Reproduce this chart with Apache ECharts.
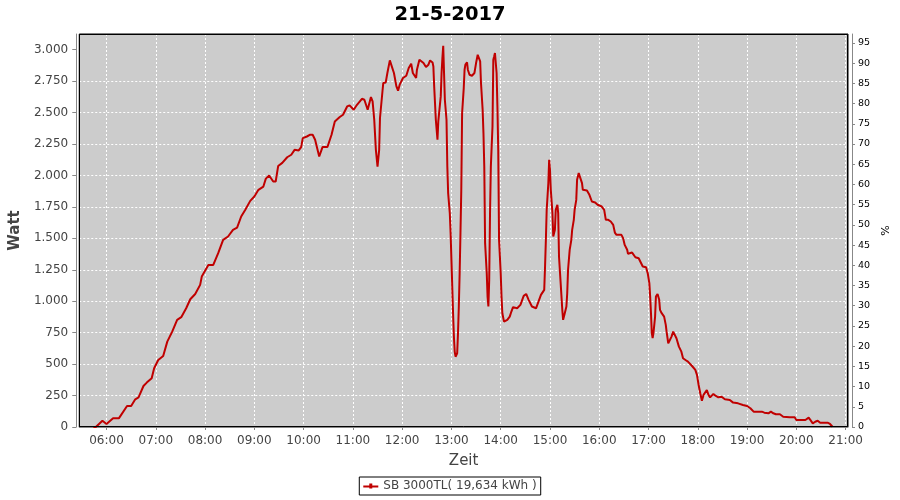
<!DOCTYPE html>
<html><head><meta charset="utf-8">
<script src="https://cdn.jsdelivr.net/npm/echarts@6/dist/echarts.min.js"></script>
<style>html,body{margin:0;padding:0;background:#fff}#c{width:900px;height:500px}</style>
</head><body><div id="c"></div><script>
const chartTitle = '21-5-2017';
const seriesName = 'SB 3000TL( 19,634 kWh )';
const xAxisName = 'Zeit';
const yAxisName = 'Watt';
const y2AxisName = '%';
const xStart = '05:26:48';
const xEnd = '21:02:54';
const wattTicks = [0,250,500,750,1000,1250,1500,1750,2000,2250,2500,2750,3000];
const pctTicks = [0,5,10,15,20,25,30,35,40,45,50,55,60,65,70,75,80,85,90,95];
const wattMax = 3125;
const pctMax = 97.2;
const times = ['05:44','05:47','05:55','06:00','06:08','06:15','06:25','06:30','06:35','06:39','06:45','06:49','06:55','06:58','07:03','07:09','07:14','07:20','07:26','07:31','07:37','07:42','07:48','07:54','07:56','08:04','08:10','08:16','08:22','08:28','08:34','08:39','08:44','08:49','08:55','09:00','09:05','09:11','09:14','09:18','09:23','09:26','09:29','09:34','09:40','09:45','09:49','09:54','09:57','09:59','10:04','10:08','10:11','10:14','10:19','10:23','10:29','10:34','10:38','10:44','10:48','10:53','10:56','11:01','11:05','11:11','11:14','11:18','11:22','11:24','11:26','11:28','11:30','11:32','11:33','11:36','11:37','11:40','11:42','11:45','11:47','11:50','11:53','11:55','11:57','12:01','12:05','12:08','12:11','12:13','12:17','12:18','12:21','12:23','12:26','12:29','12:32','12:34','12:37','12:38','12:39','12:40','12:41','12:43','12:44','12:45','12:47','12:48','12:49','12:50','12:51','12:52','12:54','12:55','12:56','12:58','12:59','13:00','13:02','13:03','13:04','13:05','13:07','13:08','13:09','13:10','13:11','13:12','13:13','13:15','13:16','13:17','13:19','13:20','13:22','13:25','13:28','13:30','13:32','13:34','13:35','13:36','13:38','13:39','13:40','13:41','13:43','13:44','13:45','13:46','13:47','13:48','13:50','13:51','13:52','13:53','13:55','13:56','13:57','13:58','14:00','14:01','14:02','14:04','14:08','14:11','14:13','14:15','14:20','14:24','14:28','14:31','14:34','14:38','14:43','14:46','14:49','14:51','14:53','14:54','14:55','14:56','14:58','14:59','15:00','15:01','15:03','15:04','15:06','15:07','15:09','15:10','15:11','15:13','15:15','15:16','15:18','15:20','15:21','15:22','15:24','15:26','15:27','15:29','15:30','15:32','15:33','15:35','15:37','15:39','15:40','15:45','15:48','15:51','15:55','15:58','16:03','16:06','16:08','16:11','16:14','16:17','16:19','16:21','16:27','16:29','16:31','16:34','16:35','16:40','16:44','16:48','16:50','16:53','16:57','16:59','17:01','17:02','17:03','17:04','17:05','17:06','17:08','17:09','17:11','17:13','17:14','17:16','17:19','17:21','17:22','17:24','17:26','17:28','17:30','17:32','17:34','17:37','17:40','17:42','17:45','17:48','17:53','17:57','17:59','18:01','18:03','18:05','18:07','18:09','18:11','18:13','18:15','18:19','18:22','18:25','18:29','18:33','18:39','18:43','18:49','18:55','19:00','19:04','19:08','19:18','19:21','19:23','19:26','19:29','19:32','19:35','19:40','19:44','19:52','19:58','20:00','20:11','20:15','20:17','20:20','20:23','20:26','20:29','20:38','20:41','20:44'];
const watts = [0,0,50,24,69,69,167,167,220,236,326,353,387,467,533,565,679,758,852,873,944,1016,1058,1130,1196,1289,1289,1382,1488,1515,1568,1586,1674,1727,1798,1833,1886,1912,1975,2000,1952,1952,2075,2100,2145,2165,2204,2199,2226,2297,2310,2324,2324,2284,2151,2226,2226,2324,2430,2465,2483,2549,2557,2523,2562,2610,2602,2523,2624,2589,2443,2204,2071,2204,2457,2668,2735,2740,2815,2915,2907,2815,2708,2674,2722,2775,2793,2855,2889,2815,2775,2841,2921,2934,2894,2862,2881,2915,2899,2867,2708,2576,2443,2284,2430,2443,2629,2815,2934,3032,2815,2602,2443,2071,1860,1701,1541,1329,905,719,600,559,586,746,958,1223,1541,1886,2496,2695,2841,2881,2899,2841,2801,2793,2815,2894,2960,2952,2907,2735,2523,2337,2071,1462,1223,1037,958,1170,1701,2071,2390,2921,2947,2974,2815,2549,2204,1488,1223,1037,905,838,852,878,918,953,944,971,1043,1058,1011,958,944,997,1051,1058,1090,1276,1488,1727,1939,2125,2045,1886,1701,1515,1568,1727,1767,1701,1355,1144,931,852,905,958,1064,1249,1409,1488,1568,1647,1727,1806,1966,2019,2005,1939,1886,1880,1846,1793,1785,1767,1753,1727,1647,1647,1634,1607,1546,1528,1528,1502,1448,1409,1377,1387,1350,1342,1329,1276,1271,1223,1144,1037,905,746,706,746,878,1037,1058,1011,931,905,878,812,758,666,692,719,758,746,706,639,599,547,533,520,485,454,414,334,268,209,255,268,294,255,236,263,247,236,241,220,215,194,188,175,167,149,122,122,114,101,109,122,109,101,101,82,77,77,56,56,74,56,29,42,50,34,34,24,2];

function toTs(s){const p=s.split(':').map(Number);return Date.UTC(2017,4,21,p[0],p[1],p[2]||0);}
function pad(n){return (n<10?'0':'')+n;}
function fmtW(v){v=Math.round(v);if(v>=1000){return Math.floor(v/1000)+'.'+String(v%1000).padStart(3,'0');}return String(v);}
const seriesData = times.map((t,i)=>[toTs(t), watts[i]]);
const FONT = 'DejaVu Sans';
const G = {left:79,right:52,top:34,bottom:73};
const gridLine = {show:true,showMinLine:false,showMaxLine:false,lineStyle:{color:'#ffffff',type:[2,2],width:1}};
const chart = echarts.init(document.getElementById('c'), null, {renderer:'canvas'});
chart.setOption({
  animation:false,
  useUTC:true,
  backgroundColor:'#ffffff',
  title:{text:chartTitle,left:'center',top:0,textStyle:{fontFamily:FONT,fontSize:19.5,fontWeight:'bold',color:'#000'}},
  grid:{left:G.left,right:G.right,top:G.top,bottom:G.bottom,show:true,backgroundColor:'#cccccc',borderColor:'#000',borderWidth:1,containLabel:false},
  graphic:[{type:'rect',z:100,silent:true,
    shape:{x:G.left+0.5,y:G.top+0.5,width:900-G.left-G.right-1,height:500-G.top-G.bottom-1},
    style:{fill:null,stroke:'#000',lineWidth:1}}],
  legend:{left:'center',top:477,padding:[3,4,3,4],borderColor:'#000',borderWidth:1,itemWidth:15,itemHeight:8,itemGap:4,
    icon:'path://M0,3 L6,3 L6,1 L9,1 L9,3 L15,3 L15,5 L9,5 L9,6 L6,6 L6,5 L0,5 Z',
    textStyle:{fontFamily:FONT,fontSize:12,color:'#444'},data:[seriesName]},
  xAxis:{type:'time',min:toTs(xStart),max:toTs(xEnd),offset:4,minInterval:3600000,maxInterval:3600000,
    name:xAxisName,nameLocation:'middle',nameGap:23,nameTextStyle:{fontFamily:FONT,fontSize:15,color:'#444'},
    axisLine:{show:true,lineStyle:{color:'#888',width:1}},
    axisTick:{show:true,length:3,lineStyle:{color:'#888'}},
    axisLabel:{fontFamily:FONT,fontSize:12,color:'#444',margin:4,hideOverlap:false,
      formatter:function(v){const d=new Date(v);return pad(d.getUTCHours())+':'+pad(d.getUTCMinutes());}},
    splitLine:gridLine},
  yAxis:[
    {type:'value',min:0,max:wattMax,interval:250,offset:3,position:'left',
     name:yAxisName,nameLocation:'middle',nameGap:48,nameTextStyle:{fontFamily:FONT,fontSize:15,fontWeight:'bold',color:'#444'},
     axisLine:{show:true,lineStyle:{color:'#888',width:1}},
     axisTick:{show:true,length:4,lineStyle:{color:'#888'},customValues:wattTicks},
     axisLabel:{fontFamily:FONT,fontSize:12,color:'#444',margin:8,customValues:wattTicks,formatter:fmtW},
     splitLine:gridLine},
    {type:'value',min:0,max:pctMax,interval:5,offset:4,position:'right',
     name:y2AxisName,nameLocation:'middle',nameGap:23,nameTextStyle:{fontFamily:FONT,fontSize:11,color:'#000'},
     axisLine:{show:true,lineStyle:{color:'#888',width:1}},
     axisTick:{show:true,length:3,lineStyle:{color:'#888'},customValues:pctTicks},
     axisLabel:{fontFamily:FONT,fontSize:9.5,color:'#000',margin:6,customValues:pctTicks},
     splitLine:{show:false}}
  ],
  series:[{name:seriesName,type:'line',yAxisIndex:0,data:seriesData,showSymbol:false,symbol:'none',
    lineStyle:{color:'#c00000',width:2},itemStyle:{color:'#c00000'},clip:true}]
});
</script></body></html>
